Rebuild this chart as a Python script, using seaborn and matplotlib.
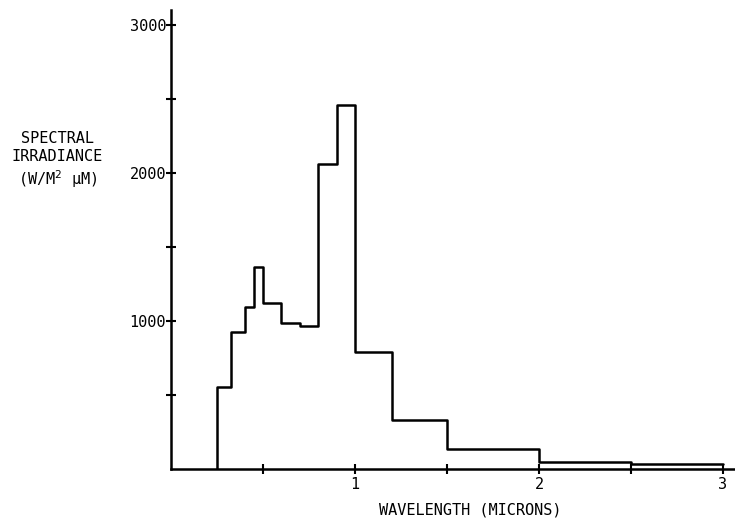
import matplotlib
matplotlib.use("Agg")
import matplotlib.pyplot as plt
import seaborn as sns
import pandas as pd

# bin edges (microns) and spectral irradiance in each bin (W/m^2 um)
edges = [0.25, 0.325, 0.4, 0.45, 0.5, 0.6, 0.7, 0.8, 0.9, 1.0, 1.2, 1.5, 2.0, 2.5, 3.0]
irradiance = [552, 928, 1097, 1367, 1120, 988, 966, 2061, 2459, 793, 331, 133, 45, 32]

x_ticks = [1, 2, 3]
x_tick_labels = ["1", "2", "3"]
y_ticks = [1000, 2000, 3000]
y_tick_labels = ["1000", "2000", "3000"]

# step outline: start on the axis, rise, then hold each level to the next edge
step_x = [edges[0]] + edges
step_y = [0] + irradiance + [irradiance[-1]]
df = pd.DataFrame({"wavelength": step_x, "irradiance": step_y})

sns.set_style("white")
plt.rcParams["font.family"] = ["DejaVu Sans Mono", "DejaVu Sans"]
plt.rcParams["text.color"] = "black"

fig = plt.figure(figsize=(7.35, 5.25), dpi=100)
ax = fig.add_axes([0.2327, 0.1067, 0.7673, 0.874])

sns.lineplot(data=df, x="wavelength", y="irradiance", drawstyle="steps-post",
             color="black", linewidth=1.8, ax=ax, estimator=None, sort=False)

ax.set_xlim(0, 3.065)
ax.set_ylim(0, 3100)

# axes: only left and bottom lines, ticks crossing the line
for side in ["top", "right"]:
    ax.spines[side].set_visible(False)
for side in ["left", "bottom"]:
    ax.spines[side].set_linewidth(1.8)
    ax.spines[side].set_color("black")

ax.set_xticks(x_ticks)
ax.set_xticklabels(x_tick_labels)
ax.set_xticks([0.5, 1.5, 2.5], minor=True)
ax.set_yticks(y_ticks)
ax.set_yticklabels(y_tick_labels)
ax.set_yticks([500, 1500, 2500], minor=True)
ax.tick_params(axis="both", which="both", direction="inout", length=7, width=1.5,
               color="black", labelcolor="black", labelsize=11,
               bottom=True, left=True)
ax.tick_params(axis="x", which="major", pad=2)
ax.tick_params(axis="y", which="major", pad=0)

ax.set_xlabel("")
ax.set_ylabel("")

fig.text(0.078, 0.695, "SPECTRAL\nIRRADIANCE\n(W/M$^2$ \u03bcM)", ha="center", va="center",
         fontsize=11, linespacing=1.25, color="black")
fig.text(0.64, 0.028, "WAVELENGTH (MICRONS)", ha="center", va="center",
         fontsize=11, color="black")

fig.savefig("out.png", dpi=100)
